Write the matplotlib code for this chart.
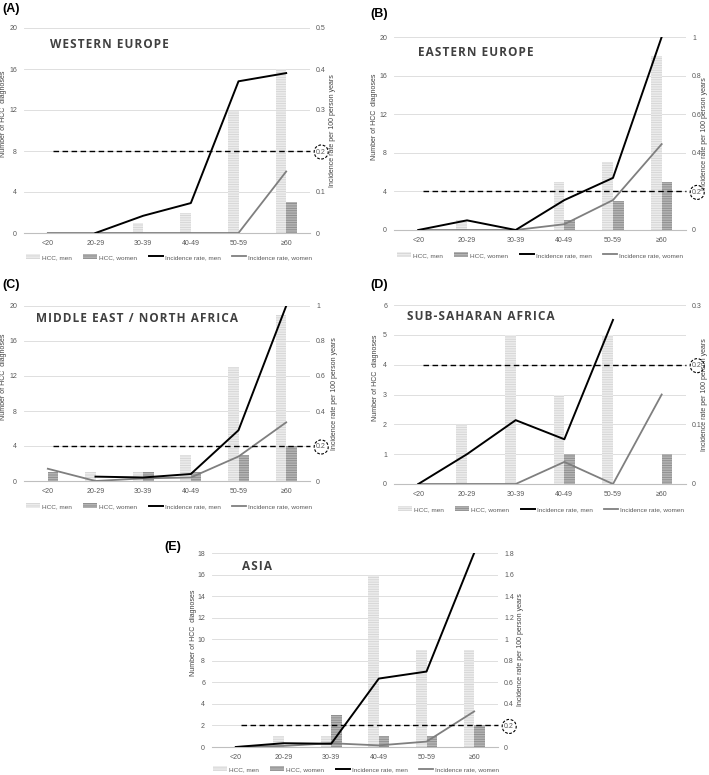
import numpy as np
import matplotlib
matplotlib.use("Agg")
import matplotlib.pyplot as plt
from matplotlib.patches import Patch
from matplotlib.lines import Line2D

W, H = 709, 775
nan = np.nan

ageGroups = ["<20", "20-29", "30-39", "40-49", "50-59", "≥60"]

# (A) Western Europe
westMen = [0, 0, 1, 2, 12, 16]
westWomen = [0, 0, 0, 0, 0, 3]
westRateMen = [nan, 0, 0.042, 0.073, 0.37, 0.39]
westRateWomen = [0, 0, 0, 0, 0, 0.15]

# (B) Eastern Europe
eastMen = [0, 1, 0, 5, 7, 18]
eastWomen = [0, 0, 0, 1, 3, 5]
eastRateMen = [0, 0.05, 0, 0.155, 0.27, 1.0]
eastRateWomen = [0, 0, 0, 0.03, 0.155, 0.445]

# (C) Middle East / North Africa
menaMen = [0, 1, 1, 3, 13, 19]
menaWomen = [1, 0, 1, 1, 3, 4]
menaRateMen = [nan, 0.025, 0.02, 0.04, 0.29, 1.0]
menaRateWomen = [0.07, 0.0, 0.015, 0.02, 0.14, 0.335]

# (D) Sub-Saharan Africa
ssaMen = [0, 2, 5, 3, 5, 0]
ssaWomen = [0, 0, 0, 1, 0, 1]
ssaRateMen = [0, 0.05, 0.107, 0.075, 0.275, nan]
ssaRateWomen = [0, 0, 0, 0.037, 0, 0.15]

# (E) Asia
asiaMen = [0, 1, 1, 16, 9, 9]
asiaWomen = [0, 0, 3, 1, 1, 2]
asiaRateMen = [0, 0.035, 0.03, 0.635, 0.7, 1.8]
asiaRateWomen = [0, 0.01, 0.035, 0.015, 0.05, 0.33]

TICK_COLOR = "#595959"
TEXT_FONT = "Liberation Sans"
MEN_FACE, MEN_HATCH = "#ececec", "#d4d4d4"
WOMEN_FACE, WOMEN_HATCH = "#b4b4b4", "#8a8a8a"
SMALL = 5

plt.rcParams["font.family"] = [TEXT_FONT, "DejaVu Sans"]
plt.rcParams["hatch.linewidth"] = 0.6

fig = plt.figure(figsize=(W / 100, H / 100), dpi=100)


def px(x, y):
    return x / W, 1 - y / H


def spaced(s):
    # a little letter spacing for the region titles
    return "\u200a".join(s)


def drawPanel(letter, letterXY, title, titleXY, box, leftMax, leftStep, rightMax, rightStep,
              men, women, rateMen, rateWomen, leftLabelX, rightLabelX, legendXY):
    left, right, top, bottom = box
    ax = fig.add_axes([left / W, 1 - bottom / H, (right - left) / W, (bottom - top) / H])
    x = np.arange(len(ageGroups))

    ax.bar(x - 0.11, men, 0.22, color=MEN_FACE, edgecolor=MEN_HATCH, linewidth=0, hatch="-------")
    ax.bar(x + 0.11, women, 0.22, color=WOMEN_FACE, edgecolor=WOMEN_HATCH, linewidth=0, hatch="-------")

    ax.set_xlim(-0.5, 5.5)
    ax.set_ylim(0, leftMax)
    ax.set_yticks(np.arange(0, leftMax + 0.001, leftStep))
    ax.set_xticks(x, ageGroups)
    ax.grid(axis="y", color="#d9d9d9", linewidth=0.6)
    ax.set_axisbelow(True)
    ax.tick_params(length=0, labelsize=SMALL, labelcolor=TICK_COLOR, pad=5)
    for s in ["top", "left", "right"]:
        ax.spines[s].set_visible(False)
    ax.spines["bottom"].set_color("#bfbfbf")
    ax.spines["bottom"].set_linewidth(0.8)

    ax2 = ax.twinx()
    ax2.plot(x, rateWomen, color="#7f7f7f", linewidth=1.3)
    ax2.plot(x, rateMen, color="black", linewidth=1.4)
    ax2.plot([0.1, 5.5], [0.2, 0.2], color="black", linewidth=1.0, linestyle=(0, (4, 2.5)), clip_on=False)
    ax2.set_ylim(0, rightMax)
    rticks = np.round(np.arange(0, rightMax + 1e-6, rightStep), 2)
    ax2.set_yticks(rticks, [f"{v:g}" for v in rticks])
    ax2.tick_params(length=0, labelsize=SMALL, labelcolor=TICK_COLOR, pad=4.5)
    for s in ax2.spines.values():
        s.set_visible(False)
    for t in ax2.get_yticklabels():
        if t.get_text() == "0.2":
            t.set_bbox(dict(boxstyle="circle,pad=0.3", facecolor="none", edgecolor="black",
                            linestyle=(0, (2.5, 1.5)), linewidth=0.8))

    fig.text(*px(*letterXY), letter, fontsize=9, fontweight="bold", ha="left", va="center")
    fig.text(*px(*titleXY), spaced(title), fontsize=8.5, fontweight="bold", color="#404040",
             family=["Open Sans", "DejaVu Sans"], ha="left", va="center")

    midY = (top + bottom) / 2
    fig.text(*px(leftLabelX, midY - 17), "Number of HCC  diagnoses", rotation=90, fontsize=SMALL,
             color="#404040", ha="center", va="center")
    fig.text(*px(rightLabelX, midY), "Incidence rate per 100 person years", rotation=90,
             fontsize=SMALL, color="#404040", ha="center", va="center")

    handles = [
        Patch(facecolor=MEN_FACE, edgecolor=MEN_HATCH, linewidth=0, hatch="-------"),
        Patch(facecolor=WOMEN_FACE, edgecolor=WOMEN_HATCH, linewidth=0, hatch="-------"),
        Line2D([], [], color="black", linewidth=1.4),
        Line2D([], [], color="#7f7f7f", linewidth=1.3),
    ]
    names = ["HCC, men", "HCC, women", "Incidence rate, men", "Incidence rate, women"]
    leg = fig.legend(handles, names, loc="center", bbox_to_anchor=px(*legendXY), ncol=4,
                     frameon=False, fontsize=4.6, handlelength=2.2, handleheight=0.8,
                     handletextpad=0.3, columnspacing=1.8, borderpad=0)
    for t in leg.get_texts():
        t.set_color(TICK_COLOR)


drawPanel("(A)", (2, 9), "WESTERN EUROPE", (50, 44), (24, 310, 28, 233), 20, 4, 0.5, 0.1,
          westMen, westWomen, westRateMen, westRateWomen, 4, 333, (169, 257))
drawPanel("(B)", (370, 14), "EASTERN EUROPE", (418, 53), (394, 686, 37, 230), 20, 4, 1.0, 0.2,
          eastMen, eastWomen, eastRateMen, eastRateWomen, 375, 704, (540, 255))
drawPanel("(C)", (2, 285), "MIDDLE EAST / NORTH AFRICA", (36, 318), (24, 310, 306, 481), 20, 4, 1.0, 0.2,
          menaMen, menaWomen, menaRateMen, menaRateWomen, 4, 334, (169, 506))
drawPanel("(D)", (370, 285), "SUB-SAHARAN AFRICA", (407, 317), (394, 686, 305, 484), 6, 1, 0.3, 0.1,
          ssaMen, ssaWomen, ssaRateMen, ssaRateWomen, 376, 705, (541, 509))
drawPanel("(E)", (164, 547), "ASIA", (242, 566), (212, 498, 553, 747), 18, 2, 1.8, 0.2,
          asiaMen, asiaWomen, asiaRateMen, asiaRateWomen, 193, 521, (356, 769))

fig.savefig("out.png", dpi=100)
